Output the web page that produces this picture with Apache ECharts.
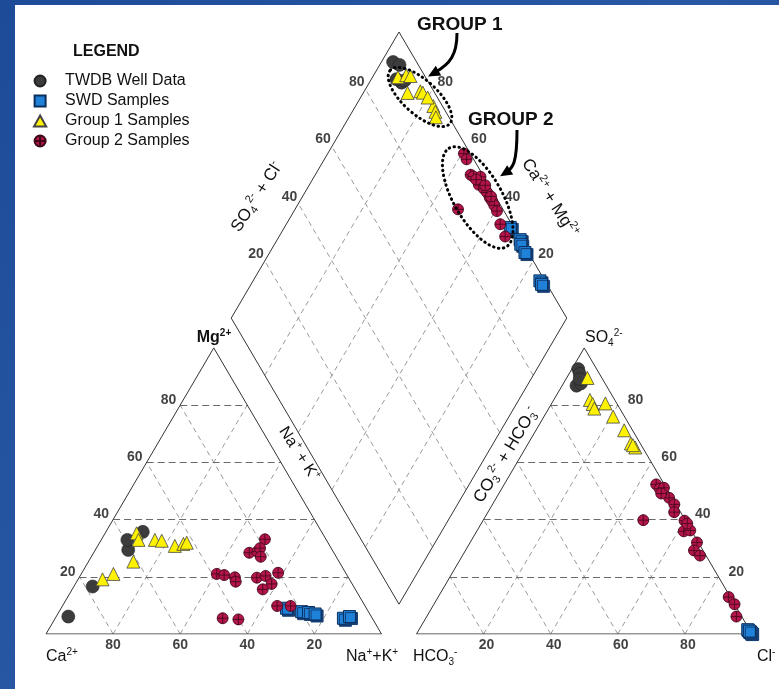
<!DOCTYPE html>
<html><head><meta charset="utf-8">
<script src="https://cdn.jsdelivr.net/npm/echarts@6/dist/echarts.min.js"></script>
<style>html,body{margin:0;padding:0;background:#fff}#main{width:779px;height:689px}</style>
</head><body><div id="main"></div>
<script>
// ---------------- DATA ----------------
const seriesNames = ['TWDB Well Data', 'SWD Samples', 'Group 1 Samples', 'Group 2 Samples'];
const tickValues = [20, 40, 60, 80];

// Cation triangle: [Mg2+ %, Na+ + K+ %]
const twdbCations = [[6.1,3.6],[16.6,5.6],[29.4,9.8],[32.9,7.8],[35.7,11.0]];
const swdCations = [[9.0,67.2],[7.8,72.3],[7.5,74.5],[7.0,76.7],[5.5,85.9],[6.1,87.4]];
const group1Cations = [[35.2,9.4],[32.9,11.1],[32.9,16.0],[32.6,18.2],[30.8,23.0],[31.5,25.2],[31.9,26.0],[25.3,13.4],[21.0,9.6],[19.1,7.3]];
const group2Cations = [[33.1,48.7],[28.4,46.4],[28.8,48.6],[30.0,48.8],[27.0,50.5],[21.0,40.4],[20.6,42.8],[19.8,46.4],[18.3,47.4],[19.7,53.0],[20.3,55.3],[21.4,58.5],[17.5,58.5],[15.6,56.8],[9.8,64.0],[9.8,68.0],[5.5,49.9],[5.1,54.8]];

// Anion triangle: [SO4 2- %, Cl- %]
const twdbAnions = [[92.6,1.9],[90.9,3.2],[86.8,4.3],[87.6,5.2],[89.1,4.1]];
const swdAnions = [[1.2,98.3],[0.8,98.9],[0.5,99.2],[1.5,98.0],[0.6,99.3],[1.0,98.7]];
const group1Anions = [[89.5,6.2],[81.8,10.8],[80.4,12.3],[78.8,13.6],[80.6,16.0],[76.0,20.6],[71.2,26.3],[66.6,30.6],[65.2,32.6],[66.0,31.5]];
const group2Anions = [[52.3,45.3],[50.8,47.1],[51.1,48.2],[47.6,51.5],[45.3,54.2],[42.6,55.5],[39.8,47.7],[39.6,60.1],[35.9,61.7],[36.2,63.5],[32.0,67.6],[29.2,68.1],[27.4,70.8],[12.9,86.6],[10.4,89.6],[6.1,92.3],[49.1,48.4],[38.6,61.4]];

// Diamond: [Ca2+ + Mg2+ %, SO4 2- + Cl- %]
const twdbDiamond = [[96.5,93.0],[94.1,94.4],[90.4,91.9],[92.5,91.0],[89.8,93.3]];
const swdDiamond = [[32.7,99.0],[27.6,99.8],[26.6,99.2],[23.9,99.0],[14.5,98.5],[13.4,98.4]];
const group1Diamond = [[92.4,91.8],[90.3,94.6],[88.9,95.7],[86.8,91.9],[83.3,96.0],[82.3,96.5],[76.8,97.3],[75.2,96.9],[74.1,96.1],[80.0,97.1]];
const group2Diamond = [[59.4,98.1],[57.6,97.9],[53.7,96.4],[52.6,96.9],[50.4,99.0],[49.5,97.1],[47.3,97.9],[45.7,98.2],[44.0,98.1],[42.7,98.2],[41.3,98.1],[51.4,86.6],[36.2,96.6],[32.6,95.9],[51.2,97.2],[47.5,98.9],[43.8,98.7],[39.5,97.9]];

// ---------------- GEOMETRY (Piper layout in abstract units) ----------------
const S = 100, GAP = 10.43, H = 86.6025;
const BX = S + GAP / 2, BY = GAP / 2 * Math.sqrt(3);
function leftPt(mg, nak) { return [nak + mg / 2, mg * H / 100]; }
function rightPt(so4, cl) { return [S + GAP + cl + so4 / 2, so4 * H / 100]; }
function diaPt(camg, so4cl) { return [BX + (so4cl - camg) / 2, BY + (so4cl + camg) * H / 100]; }

const FONT = 'Liberation Sans, Arial, Helvetica, sans-serif';

const darkGrid = [], lightGrid = [];
tickValues.forEach(v => {
  darkGrid.push({ coords: [leftPt(v, 0), leftPt(v, 100 - v)] });
  lightGrid.push({ coords: [leftPt(0, v), leftPt(100 - v, v)] });
  lightGrid.push({ coords: [leftPt(0, 100 - v), leftPt(100 - v, 0)] });
  darkGrid.push({ coords: [rightPt(v, 0), rightPt(v, 100 - v)] });
  lightGrid.push({ coords: [rightPt(0, v), rightPt(100 - v, v)] });
  lightGrid.push({ coords: [rightPt(0, 100 - v), rightPt(100 - v, 0)] });
  lightGrid.push({ coords: [diaPt(v, 0), diaPt(v, 100)] });
  lightGrid.push({ coords: [diaPt(0, v), diaPt(100, v)] });
});
const outlines = [
  { coords: [leftPt(0, 0), leftPt(0, 100), leftPt(100, 0), leftPt(0, 0)] },
  { coords: [rightPt(0, 0), rightPt(0, 100), rightPt(100, 0), rightPt(0, 0)] },
  { coords: [diaPt(0, 0), diaPt(0, 100), diaPt(100, 100), diaPt(100, 0), diaPt(0, 0)] }
];

function lab(pt, text, align, offset) {
  return { value: pt, label: { formatter: String(text), align: align, offset: offset } };
}
const tickItems = [];
tickValues.forEach(v => {
  tickItems.push(lab(leftPt(v, 0), v, 'right', [-4, -5]));
  tickItems.push(lab(leftPt(0, 100 - v), v, 'center', [0, 11]));
  tickItems.push(lab(rightPt(v, 100 - v), v, 'left', [10, -5]));
  tickItems.push(lab(rightPt(0, v), v, 'center', [3, 11]));
  tickItems.push(lab(diaPt(100, v), v, 'right', [-1, -7]));
  tickItems.push(lab(diaPt(v, 100), v, 'left', [5, -7]));
});

function pts(cat, an, dia) {
  return cat.map(d => leftPt(d[0], d[1]))
    .concat(an.map(d => rightPt(d[0], d[1])))
    .concat(dia.map(d => diaPt(d[0], d[1])));
}

const G2PATH = 'path://M0,10 C0,4.48 4.48,0 10,0 C15.52,0 20,4.48 20,10 C20,15.52 15.52,20 10,20 C4.48,20 0,15.52 0,10 Z M10,0 L10,20 M0,10 L20,10';
const SQPATH = 'path://M0,0 L10,0 L10,10 L0,10 Z';
const TRIPATH = 'path://M5,0 L10,9 L0,9 Z';

// rich text styles
function rich(size, weight) {
  return {
    b: { fontSize: size, fontWeight: weight, fontFamily: FONT, fill: '#111', lineHeight: size + 4 },
    p: { fontSize: Math.round(size * 0.62), fontWeight: weight, fontFamily: FONT, fill: '#111', verticalAlign: 'top', lineHeight: 12 },
    d: { fontSize: Math.round(size * 0.62), fontWeight: weight, fontFamily: FONT, fill: '#111', verticalAlign: 'bottom', lineHeight: 12 }
  };
}
function gtext(x, y, text, size, weight, align, rotDeg) {
  return {
    type: 'text', x: x, y: y, z: 20, rotation: (rotDeg || 0) * Math.PI / 180,
    style: { text: text, rich: rich(size, weight), align: align, verticalAlign: 'middle', fill: '#111' }
  };
}

const chart = echarts.init(document.getElementById('main'), null, { renderer: 'canvas' });
chart.setOption({
  animation: false,
  backgroundColor: {
    type: 'linear', x: 0, y: 0, x2: 1, y2: 1,
    colorStops: [{ offset: 0, color: '#1d4b97' }, { offset: 0.5, color: '#2858a4' }, { offset: 1, color: '#1c4790' }]
  },
  grid: { left: 46, right: 27, top: 32, bottom: 55 },
  xAxis: { type: 'value', min: 0, max: 2 * S + GAP, show: false },
  yAxis: { type: 'value', min: 0, max: BY + 2 * H, show: false },
  legend: {
    data: [
      { name: seriesNames[0], icon: 'circle' },
      { name: seriesNames[1], icon: SQPATH },
      { name: seriesNames[2], icon: TRIPATH },
      { name: seriesNames[3], icon: G2PATH }
    ],
    orient: 'vertical', left: 28, top: 68, itemWidth: 40, itemHeight: 11, itemGap: 4,
    selectedMode: false,
    textStyle: { fontFamily: FONT, fontSize: 16, color: '#111', lineHeight: 16 }
  },
  graphic: [
    { type: 'rect', z: -5, silent: true, shape: { x: 15, y: 5, width: 764, height: 684 }, style: { fill: '#ffffff' } },
    { type: 'text', x: 73, y: 52, z: 20, style: { text: 'LEGEND', fontSize: 16, fontWeight: 'bold', fontFamily: FONT, fill: '#111', verticalAlign: 'middle' } },
    { type: 'text', x: 417, y: 25, z: 20, style: { text: 'GROUP 1', fontSize: 19, fontWeight: 'bold', fontFamily: FONT, fill: '#111', verticalAlign: 'middle' } },
    { type: 'text', x: 468, y: 120, z: 20, style: { text: 'GROUP 2', fontSize: 19, fontWeight: 'bold', fontFamily: FONT, fill: '#111', verticalAlign: 'middle' } },
    // arrows
    { type: 'bezierCurve', z: 20, shape: { x1: 457, y1: 33, cpx1: 457, cpy1: 55, cpx2: 450, cpy2: 64, x2: 435, y2: 72.5 }, style: { stroke: '#000', lineWidth: 3, fill: null } },
    { type: 'polygon', z: 20, shape: { points: [[428, 76.5], [441.2, 75.4], [435.8, 65.8]] }, style: { fill: '#000' } },
    { type: 'bezierCurve', z: 20, shape: { x1: 517, y1: 130, cpx1: 517, cpy1: 163, cpx2: 513, cpy2: 168, x2: 506, y2: 172.5 }, style: { stroke: '#000', lineWidth: 3, fill: null } },
    { type: 'polygon', z: 20, shape: { points: [[500.1, 176.3], [513.2, 174.4], [507.2, 165.2]] }, style: { fill: '#000' } },
    // dotted group outlines
    { type: 'ellipse', z: 20, x: 420, y: 97, rotation: -42 * Math.PI / 180, shape: { cx: 0, cy: 0, rx: 40, ry: 17 }, style: { fill: null, stroke: '#000', lineWidth: 3, lineDash: [0.5, 4.5], lineCap: 'round' } },
    { type: 'ellipse', z: 20, x: 477.7, y: 197.5, rotation: -60 * Math.PI / 180, shape: { cx: 0, cy: 0, rx: 57, ry: 24 }, style: { fill: null, stroke: '#000', lineWidth: 3, lineDash: [0.5, 4.5], lineCap: 'round' } },
    // corner labels
    gtext(214, 338, '{b|Mg}{p|2+}', 16, 'bold', 'center'),
    gtext(46, 657, '{b|Ca}{p|2+}', 16, 'normal', 'left'),
    gtext(346, 657, '{b|Na}{p|+}{b|+K}{p|+}', 16, 'normal', 'left'),
    gtext(413, 657, '{b|HCO}{d|3}{p|-}', 16, 'normal', 'left'),
    gtext(757, 657, '{b|Cl}{p|-}', 16, 'normal', 'left'),
    gtext(585, 338, '{b|SO}{d|4}{p|2-}', 16, 'normal', 'left'),
    // axis titles
    gtext(299, 454, '{b|Na}{p|+}{b| + K}{p|+}', 16, 'normal', 'center', -57),
    gtext(506, 455, '{b|CO}{d|3}{p|2-}{b| + HCO}{d|3}{p|-}', 17, 'normal', 'center', 59),
    gtext(257, 197, '{b|SO}{d|4}{p|2-}{b| + Cl}{p|-}', 17, 'normal', 'center', 57),
    gtext(550, 198, '{b|Ca}{p|2+}{b| + Mg}{p|2+}', 17, 'normal', 'center', -57)
  ],
  series: [
    { type: 'lines', coordinateSystem: 'cartesian2d', silent: true, z: 1, data: lightGrid,
      lineStyle: { color: '#9a9a9a', width: 1, type: [5, 4], opacity: 1 } },
    { type: 'lines', coordinateSystem: 'cartesian2d', silent: true, z: 1, data: darkGrid,
      lineStyle: { color: '#6a6a6a', width: 1, type: [7, 4], opacity: 1 } },
    { type: 'lines', coordinateSystem: 'cartesian2d', polyline: true, silent: true, z: 2, data: outlines,
      lineStyle: { color: '#333', width: 1, type: 'solid', opacity: 1 } },
    { type: 'scatter', silent: true, z: 3, symbolSize: 0.1, itemStyle: { color: 'rgba(0,0,0,0)' }, data: tickItems,
      label: { show: true, position: 'inside', fontFamily: FONT, fontSize: 14, fontWeight: 'bold', color: '#111', verticalAlign: 'middle' } },
    { name: seriesNames[0], type: 'scatter', z: 4, clip: false, symbol: 'circle', symbolSize: 13,
      itemStyle: { color: '#3c3c3c', borderColor: '#222', borderWidth: 0.6, opacity: 1 },
      data: pts(twdbCations, twdbAnions, twdbDiamond) },
    { name: seriesNames[1], type: 'scatter', z: 5, clip: false, symbol: 'rect', symbolSize: 12,
      itemStyle: { color: '#1f82d8', borderColor: '#0b2d5c', borderWidth: 1, opacity: 1, shadowColor: '#163f75', shadowOffsetX: 2, shadowOffsetY: 2, shadowBlur: 0 },
      data: pts(swdCations, swdAnions, swdDiamond) },
    { name: seriesNames[2], type: 'scatter', z: 6, clip: false, symbol: 'triangle', symbolSize: 13,
      itemStyle: { color: '#fff200', borderColor: '#444', borderWidth: 0.8, opacity: 1 },
      data: pts(group1Cations, group1Anions, group1Diamond) },
    { name: seriesNames[3], type: 'scatter', z: 7, clip: false, symbol: G2PATH, symbolSize: 11,
      itemStyle: { color: '#b3144b', borderColor: '#3d0716', borderWidth: 0.8, opacity: 1 },
      data: pts(group2Cations, group2Anions, group2Diamond) }
  ]
});
</script></body></html>
